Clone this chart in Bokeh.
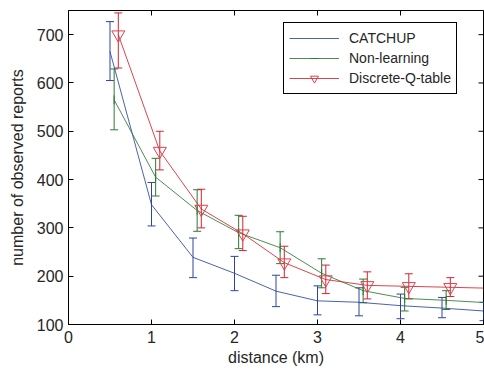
import math
from bokeh.plotting import figure
from bokeh.models import (ColumnDataSource, Whisker, TeeHead, Legend, LegendItem,
                          Range1d, FixedTicker)
from bokeh.embed import file_html
from bokeh.resources import INLINE

# ---- data ----
x_catchup = [0.5, 1.0, 1.5, 2.0, 2.5, 3.0, 3.5, 4.0, 4.5, 5.0]
catchup = [665, 348, 239, 206, 169, 149, 146, 139, 134, 128]
catchup_lo = [605, 304, 197, 170, 137, 120, 118, 112, 114, 108]
catchup_hi = [727, 394, 279, 241, 202, 180, 176, 163, 156, 146]

x_nonlearn = [0.55, 1.05, 1.55, 2.05, 2.55, 3.05, 3.55, 4.05, 4.55, 5.05]
nonlearn = [565, 405, 336, 290, 259, 206, 170, 154, 150, 145]
nonlearn_lo = [503, 366, 293, 257, 226, 176, 145, 128, 131, 120]
nonlearn_hi = [629, 444, 379, 326, 292, 236, 194, 177, 170, 170]

x_qtable = [0.6, 1.1, 1.6, 2.1, 2.6, 3.1, 3.6, 4.1, 4.6, 5.1]
qtable = [700, 459, 339, 288, 228, 193, 181, 179, 177, 175]
qtable_lo = [631, 420, 300, 253, 197, 164, 153, 153, 158, 150]
qtable_hi = [745, 500, 380, 324, 262, 223, 209, 205, 197, 200]

x_ticks = [0, 1, 2, 3, 4, 5]
y_ticks = [100, 200, 300, 400, 500, 600, 700]

BLUE = "#2E45A0"
GREEN = "#2D7A36"
RED = "#D42330"
FONT = "Liberation Sans"
TXT = "#262626"

X0, X1, Y0, Y1 = 0, 5, 100, 750

p = figure(width=484, height=373, x_range=Range1d(X0, X1), y_range=Range1d(Y0, Y1),
           output_backend="svg", toolbar_location=None,
           min_border_left=68, min_border_right=1, min_border_top=10, min_border_bottom=49)
p.xgrid.visible = False
p.ygrid.visible = False
p.outline_line_color = "black"
p.outline_line_alpha = 1.0
p.outline_line_width = 1
p.background_fill_color = "white"
p.border_fill_color = "white"

for ax, ticks in ((p.xaxis[0], x_ticks), (p.yaxis[0], y_ticks)):
    ax.ticker = FixedTicker(ticks=ticks)
    ax.major_tick_in = 5
    ax.major_tick_out = 0
    ax.minor_tick_line_color = None
    ax.axis_line_color = "black"
    ax.major_tick_line_color = "black"
    ax.major_label_text_font = FONT
    ax.major_label_text_font_size = "16px"
    ax.major_label_text_color = TXT
    ax.axis_label_text_font = FONT
    ax.axis_label_text_font_size = "16px"
    ax.axis_label_text_font_style = "normal"
    ax.axis_label_text_color = TXT
p.xaxis[0].axis_label = "distance (km)"
p.yaxis[0].axis_label = "number of observed reports"
p.xaxis[0].major_label_standoff = 6
p.xaxis[0].axis_label_standoff = 3
p.yaxis[0].major_label_standoff = 5
p.yaxis[0].axis_label_standoff = 8

# mirror ticks on the top and right frame edges (half of each dash is clipped away)
p.scatter(x_ticks, [Y1] * len(x_ticks), marker="dash", angle=math.pi / 2, size=10,
          line_color="black", line_width=1)
p.scatter([X1] * len(y_ticks), y_ticks, marker="dash", size=10,
          line_color="black", line_width=1)

def series(xs, ys, lo, hi, color):
    src = ColumnDataSource(dict(x=xs, y=ys, lo=lo, hi=hi))
    w = Whisker(base="x", upper="hi", lower="lo", dimension="height", source=src,
                line_color=color, line_width=1,
                upper_head=TeeHead(size=8, line_color=color, line_width=1),
                lower_head=TeeHead(size=8, line_color=color, line_width=1))
    p.add_layout(w)
    ln = p.line("x", "y", source=src, line_color=color, line_width=1, line_alpha=0.85)
    return src, ln

s1, l1 = series(x_catchup, catchup, catchup_lo, catchup_hi, BLUE)
s2, l2 = series(x_nonlearn, nonlearn, nonlearn_lo, nonlearn_hi, GREEN)
m2 = p.scatter("x", "y", source=s2, marker="dash", angle=math.pi / 2, size=9,
               line_color=GREEN, line_width=1)
s3, l3 = series(x_qtable, qtable, qtable_lo, qtable_hi, RED)
m3 = p.scatter("x", "y", source=s3, marker="inverted_triangle", size=13,
               line_color="#E0404C", fill_color=None, line_width=1)

legend = Legend(items=[LegendItem(label="CATCHUP", renderers=[l1]),
                       LegendItem(label="Non-learning", renderers=[l2, m2]),
                       LegendItem(label="Discrete-Q-table", renderers=[l3, m3])],
                location=(215, 230), glyph_width=50, glyph_height=20, spacing=0,
                padding=5, margin=0, label_standoff=10, label_height=20,
                label_text_font=FONT, label_text_font_size="14px", label_text_color=TXT,
                border_line_color="black", border_line_width=1, border_line_alpha=1,
                background_fill_color="white", background_fill_alpha=1)
p.add_layout(legend, "center")

open("out.html", "w").write(file_html(p, INLINE))
